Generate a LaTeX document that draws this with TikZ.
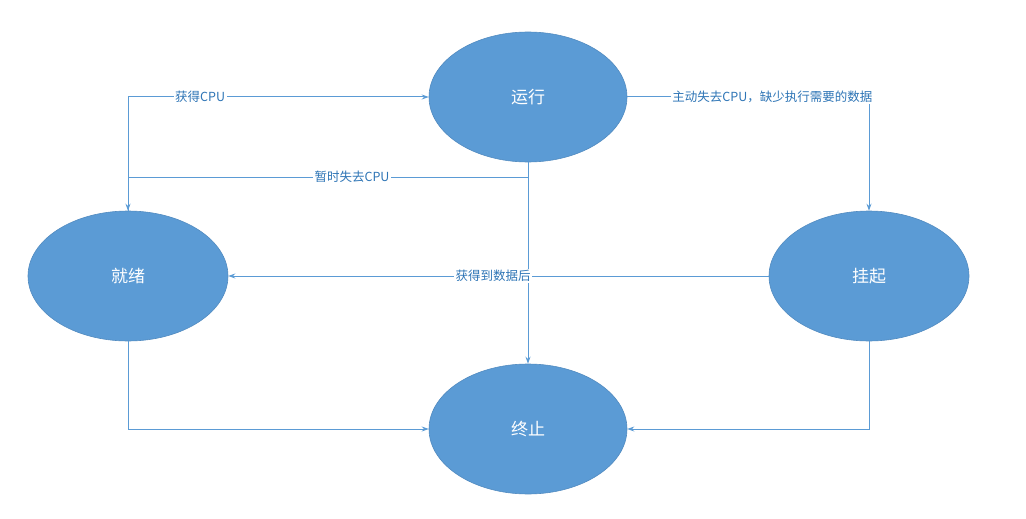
\documentclass[tikz,border=0pt]{standalone}
\usepackage{fontspec}
\setmainfont{Noto Sans CJK SC}
\usetikzlibrary{arrows.meta,shapes.geometric}
\definecolor{fillb}{HTML}{5B9BD5}
\definecolor{lineb}{HTML}{5B9BD5}
\definecolor{labb}{HTML}{2E75B6}
\begin{document}
\begin{tikzpicture}[x=1pt,y=-1pt,
  st/.style={ellipse,fill=fillb,draw=fillb!90!black,line width=0.6pt,minimum width=198pt,minimum height=130pt,inner sep=0pt,text=white,font=\fontsize{17}{20}\selectfont},
  conn/.style={draw=lineb,line width=1pt,-{Stealth[length=7pt,width=5pt]}},
  lab/.style={fill=white,text=labb,inner sep=1.5pt,font=\fontsize{12.5}{15}\selectfont}]
\useasboundingbox (0,0) rectangle (1026,519);
\node[st] (run) at (528,97) {运行};
\node[st,minimum width=200pt] (ready) at (128,276) {就绪};
\node[st,minimum width=200pt] (hang) at (869,276) {挂起};
\node[st] (end) at (528,429) {终止};
\draw[conn] (ready.north) |- node[lab,pos=0.62]{获得CPU} (run.west);
\draw[conn] (run.south) |- (128,177) node[lab,pos=0.72]{暂时失去CPU} -- (ready.north);
\draw[conn] (run.south) -- (end.north);
\draw[conn] (run.east) -| node[lab,pos=0.3]{主动失去CPU，缺少执行需要的数据} (hang.north);
\draw[conn] (hang.west) -- node[lab,pos=0.51]{获得到数据后} (ready.east);
\draw[conn] (ready.south) |- (end.west);
\draw[conn] (hang.south) |- (end.east);
\end{tikzpicture}
\end{document}
